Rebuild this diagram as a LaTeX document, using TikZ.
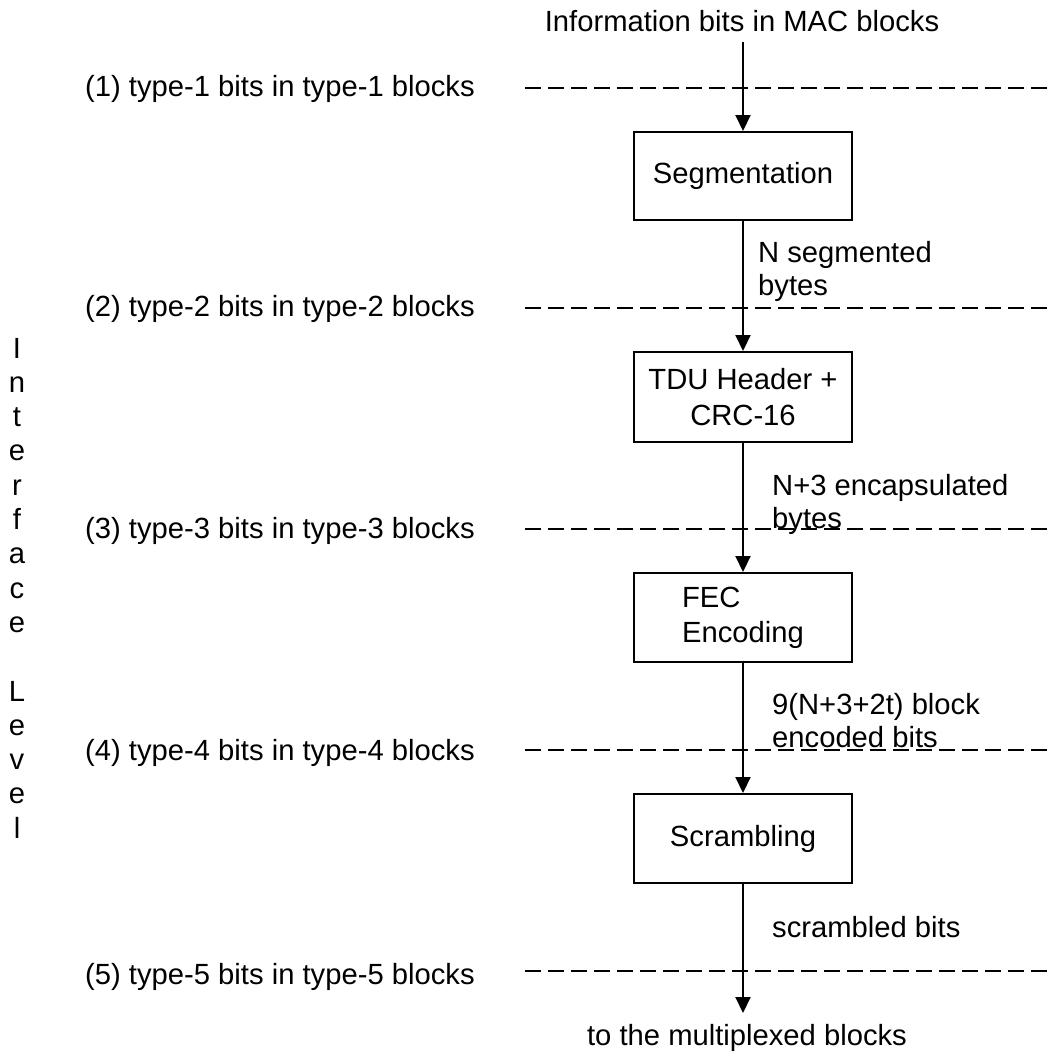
\documentclass[tikz,border=0pt]{standalone}
\usepackage{fontspec}
\setmainfont{Liberation Sans}
\usetikzlibrary{arrows.meta}
\begin{document}
\begin{tikzpicture}[x=1pt,y=-1pt,
  txt/.style={font=\fontsize{29.2}{33}\selectfont, inner sep=0pt},
  box/.style={draw, line width=2pt, minimum width=218pt, inner sep=0pt, txt, align=center},
  flow/.style={line width=2pt, -{Triangle[width=15pt,length=16pt]}},
  dashline/.style={line width=2pt, dash pattern=on 16pt off 7pt}]
\useasboundingbox (0,0) rectangle (1051,1053);
\fill[white] (0,0) rectangle (1051,1053);

% top and bottom texts
\node[txt, anchor=base] (src) at (742,31) {Information bits in MAC blocks};
\coordinate (s0) at (743,42);
\node[txt, anchor=base] (dst) at (747,1045) {to the multiplexed blocks};
\coordinate (e0) at (743,1013);

% dashed interface lines
\draw[dashline] (525,88) -- (1047,88);
\draw[dashline] (525,308) -- (1047,308);
\draw[dashline] (525,529) -- (1047,529);
\draw[dashline] (525,750) -- (1047,750);
\draw[dashline] (525,971) -- (1047,971);

% left labels
\node[txt, anchor=base west] (l1) at (85,96) {(1) type-1 bits in type-1 blocks};
\node[txt, anchor=base west] (l2) at (85,316) {(2) type-2 bits in type-2 blocks};
\node[txt, anchor=base west] (l3) at (85,538) {(3) type-3 bits in type-3 blocks};
\node[txt, anchor=base west] (l4) at (85,760) {(4) type-4 bits in type-4 blocks};
\node[txt, anchor=base west] (l5) at (85,984) {(5) type-5 bits in type-5 blocks};

% vertical text
\foreach \k/\c in {1/I,2/n,3/t,4/e,5/r,6/f,7/a,8/c,9/e,11/L,12/e,13/v,14/e,15/l}
  \node[txt, anchor=base] (v\k) at (17,{358+(\k-1)*34.3}) {\c};

% boxes
\node[box, minimum height=88pt] (seg) at (743,176) {Segmentation};
\node[box, minimum height=90pt, font=\fontsize{29.2}{36}\selectfont] (tdu) at (743,397) {TDU Header +\\CRC-16};
\node[box, minimum height=89pt, align=left, font=\fontsize{29.2}{35}\selectfont] (fec) at (743,617.5) {FEC\\Encoding};
\node[box, minimum height=89pt] (scr) at (743,838.5) {Scrambling};

% connectors
\draw[flow] (s0) -- (seg.north);
\draw[flow] (seg.south) -- (tdu.north);
\draw[flow] (tdu.south) -- (fec.north);
\draw[flow] (fec.south) -- (scr.north);
\draw[flow] (scr.south) -- (e0);

% connector annotations
\node[txt, anchor=base west] (a1) at (758,262) {N segmented};
\node[txt, anchor=base west] (a1b) at (758,295) {bytes};
\node[txt, anchor=base west] (a2) at (772,495) {N+3 encapsulated};
\node[txt, anchor=base west] (a2b) at (772,528) {bytes};
\node[txt, anchor=base west] (a3) at (772,714) {9(N+3+2t) block};
\node[txt, anchor=base west] (a3b) at (772,747) {encoded bits};
\node[txt, anchor=base west] (a4) at (772,937) {scrambled bits};
\end{tikzpicture}
\end{document}
